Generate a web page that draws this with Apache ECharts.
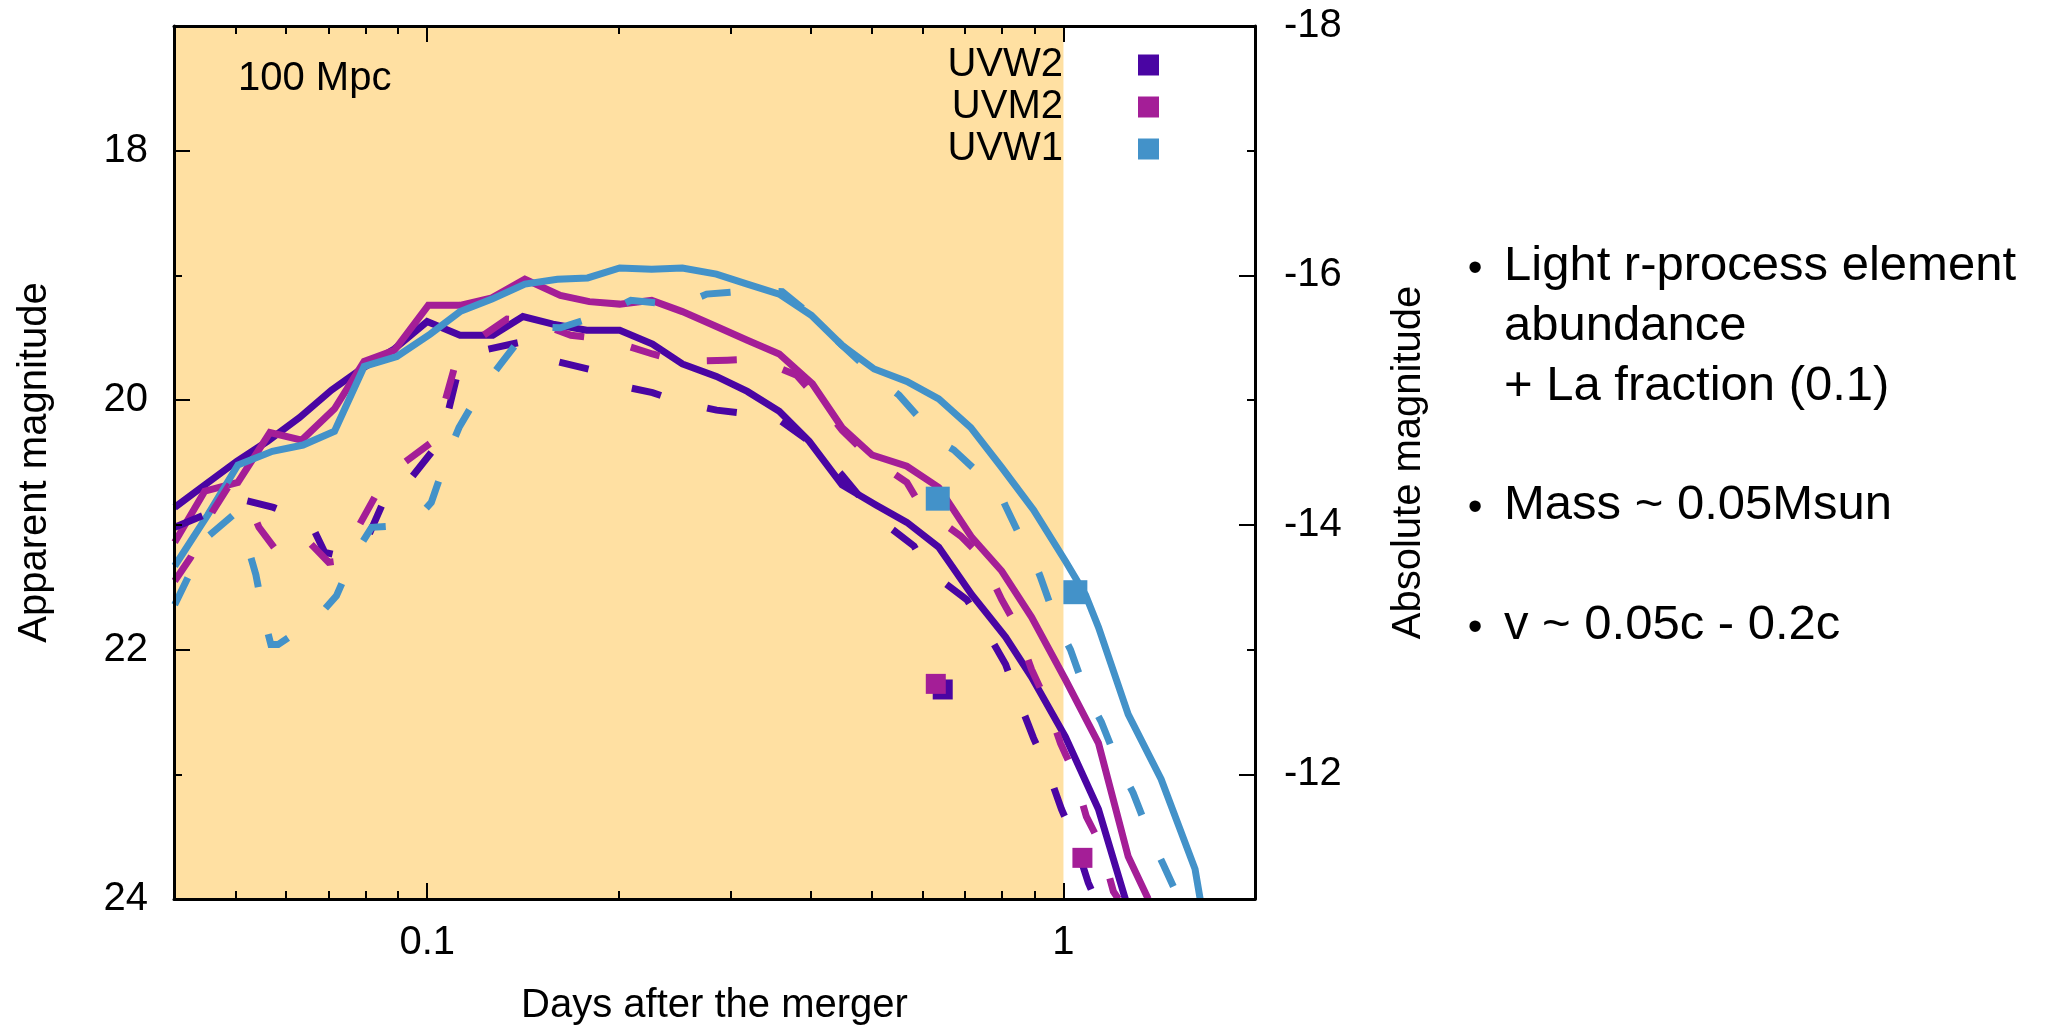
<!DOCTYPE html>
<html><head><meta charset="utf-8">
<script src="https://cdn.jsdelivr.net/npm/echarts/dist/echarts.min.js"></script>
<style>html,body{margin:0;padding:0;background:#fff}#c{width:2047px;height:1031px}</style>
</head><body><div id="c"></div>
<script>
// ---- data: [days, apparent magnitude] ----
const uvw2Solid = [[0.0401,20.86],[0.0447,20.68],[0.0502,20.49],[0.0561,20.33],[0.0630,20.14],[0.0707,19.92],[0.0788,19.75],[0.0888,19.59],[0.1,19.37],[0.1126,19.48],[0.1268,19.48],[0.1414,19.33],[0.1576,19.39],[0.1781,19.44],[0.2007,19.44],[0.2260,19.55],[0.2518,19.71],[0.2848,19.81],[0.3185,19.93],[0.3575,20.09],[0.3985,20.33],[0.4487,20.68],[0.5073,20.84],[0.5674,20.98],[0.6368,21.18],[0.7176,21.56],[0.8111,21.90],[0.8909,22.22],[1.007,22.70],[1.135,23.28],[1.251,24.0]];
const uvm2Solid = [[0.0401,21.14],[0.0447,20.73],[0.0504,20.66],[0.0566,20.26],[0.0635,20.32],[0.0715,20.07],[0.0796,19.69],[0.0888,19.60],[0.1004,19.24],[0.1126,19.24],[0.1264,19.18],[0.1424,19.03],[0.1619,19.16],[0.1798,19.21],[0.2007,19.23],[0.2253,19.20],[0.2518,19.29],[0.2848,19.41],[0.3185,19.52],[0.3575,19.63],[0.4032,19.87],[0.4487,20.22],[0.5004,20.44],[0.5674,20.53],[0.6368,20.70],[0.7176,21.10],[0.7998,21.37],[0.8909,21.74],[1.007,22.24],[1.135,22.75],[1.264,23.66],[1.359,24.0]];
const uvw1Solid = [[0.0401,21.33],[0.0452,20.92],[0.0504,20.52],[0.0571,20.41],[0.0638,20.36],[0.0715,20.25],[0.0796,19.73],[0.0896,19.65],[0.1011,19.47],[0.1126,19.29],[0.1264,19.19],[0.1424,19.07],[0.1602,19.03],[0.1787,19.02],[0.2007,18.94],[0.2253,18.95],[0.2518,18.94],[0.2848,18.99],[0.3185,19.07],[0.3575,19.15],[0.4015,19.32],[0.4487,19.56],[0.5040,19.75],[0.5674,19.85],[0.6368,19.99],[0.7151,20.22],[0.7998,20.54],[0.8974,20.88],[1.007,21.29],[1.083,21.56],[1.135,21.82],[1.264,22.52],[1.424,23.04],[1.610,23.76],[1.640,24.0]];
const uvw2Dashed = [[0.0401,21.02],[0.0447,20.92],[0.0514,20.80],[0.0573,20.86],[0.0655,20.98],[0.0690,21.22],[0.0747,21.26],[0.0802,21.13],[0.0880,20.66],[0.0945,20.62],[0.1033,20.37],[0.1071,20.16],[0.1118,19.77],[0.1143,19.68],[0.1198,19.61],[0.1418,19.53],[0.1540,19.67],[0.1821,19.76],[0.1988,19.88],[0.2260,19.94],[0.2513,20.02],[0.2850,20.08],[0.3075,20.10],[0.3427,20.09],[0.3986,20.33],[0.4487,20.60],[0.5089,20.94],[0.5822,21.17],[0.6143,21.37],[0.7047,21.60],[0.7434,21.78],[0.8112,22.12],[0.8411,22.34],[0.8973,22.71],[0.9371,22.92],[0.9928,23.28],[1.0368,23.50],[1.094,23.87],[1.122,24.0]];
const uvm2Dashed = [[0.0401,21.45],[0.0425,21.26],[0.0459,20.90],[0.0486,20.70],[0.0522,20.80],[0.0544,21.02],[0.0588,21.25],[0.0647,21.12],[0.0700,21.30],[0.0725,21.29],[0.0765,21.09],[0.0835,20.74],[0.0888,20.56],[0.1015,20.34],[0.1052,20.12],[0.1102,19.75],[0.1130,19.61],[0.1171,19.55],[0.1335,19.35],[0.1451,19.36],[0.1682,19.48],[0.1901,19.51],[0.2260,19.63],[0.2513,19.69],[0.2964,19.68],[0.3303,19.67],[0.3807,19.80],[0.4058,19.96],[0.4487,20.24],[0.4915,20.44],[0.5674,20.66],[0.5985,20.86],[0.6897,21.09],[0.7409,21.25],[0.7998,21.60],[0.8411,21.80],[0.8909,22.16],[0.9371,22.40],[0.9892,22.75],[1.0367,22.98],[1.0865,23.34],[1.1429,23.56],[1.198,23.94],[1.22,24.0]];
const uvw1Dashed = [[0.0401,21.64],[0.0419,21.44],[0.0453,21.09],[0.0496,20.92],[0.0522,21.17],[0.0538,21.40],[0.0555,21.76],[0.0568,21.96],[0.0583,21.96],[0.0667,21.76],[0.0720,21.57],[0.0768,21.24],[0.0818,21.02],[0.0944,21.00],[0.1015,20.82],[0.1075,20.45],[0.1122,20.22],[0.1221,19.90],[0.1305,19.71],[0.1447,19.41],[0.1619,19.42],[0.1890,19.31],[0.2090,19.20],[0.2493,19.24],[0.2749,19.15],[0.3245,19.12],[0.3615,19.13],[0.4015,19.32],[0.4487,19.56],[0.5073,19.81],[0.5514,19.96],[0.6192,20.25],[0.6323,20.32],[0.6726,20.40],[0.7631,20.66],[0.7967,20.76],[0.8111,20.85],[0.8750,21.20],[0.9040,21.32],[0.9204,21.42],[0.9750,21.78],[1.0256,22.00],[1.0866,22.36],[1.1470,22.58],[1.2196,22.92],[1.2869,23.15],[1.3689,23.50],[1.4339,23.72],[1.52,24.0]];
const uvw2Obs = [[0.646,22.32]];
const uvm2Obs = [[0.630,22.275],[1.071,23.67]];
const uvw1Obs = [[0.6345,20.79],[1.044,21.54]];
const bandNames = ['UVW2','UVM2','UVW1'];
const shadeRange = [0.04, 1];
const xMajorTicks = [0.1, 1];
const xMinorTicks = [0.05,0.06,0.07,0.08,0.09,0.2,0.3,0.4,0.5,0.6,0.7,0.8,0.9,2];
const yMajorTicks = [18,20,22,24];
const absMajorTicks = [-18,-16,-14,-12];
const distanceModulus = 35;
const noteLines = ['Light r-process element','abundance','+ La fraction (0.1)','Mass ~ 0.05Msun','v ~ 0.05c - 0.2c'];

const FONT = '"Liberation Sans", Arial, Helvetica, sans-serif';
const C = ['#4A05A3', '#A41E97', '#4392C9'];
const BLACK = '#000';
const mMin = 17, mMax = 24;

const tickLine = {color: BLACK, width: 2};
const fontBase = {fontFamily: FONT, fontSize: 40, color: BLACK};

function xAx(pos, major, withLine) {
  return {
    type: 'log', logBase: 10, min: 0.04, max: 2, position: pos, z: 10,
    axisLine: {show: withLine, onZero: false, lineStyle: {color: BLACK, width: 3}},
    axisTick: {show: true, inside: true, length: major ? 16 : 8, lineStyle: tickLine, customValues: major ? xMajorTicks : xMinorTicks},
    axisLabel: {show: false},
    splitLine: {show: false}, minorTick: {show: false}
  };
}
function yAx(pos, lo, hi, major, withLine, ticks) {
  return {
    type: 'value', inverse: true, min: lo, max: hi, interval: 1, position: pos, z: 10,
    axisLine: {show: withLine, onZero: false, lineStyle: {color: BLACK, width: 3}},
    axisTick: major ? {show: true, inside: true, length: 16, lineStyle: tickLine, customValues: ticks}
                    : {show: true, inside: true, length: 8, lineStyle: tickLine},
    axisLabel: {show: false},
    splitLine: {show: false}
  };
}

const xMain = xAx('bottom', true, true);
xMain.axisLabel = Object.assign({show: true, customValues: xMajorTicks, margin: 24,
  formatter: v => (Math.abs(v - 0.1) < 1e-6 ? '0.1' : Math.abs(v - 1) < 1e-6 ? '1' : '')}, fontBase);
xMain.name = 'Days after the merger';
xMain.nameLocation = 'middle';
xMain.nameGap = 87;
xMain.nameTextStyle = Object.assign({}, fontBase);

const yLeft = yAx('left', mMin, mMax, true, true, yMajorTicks);
yLeft.axisLabel = Object.assign({show: true, customValues: yMajorTicks, margin: 26}, fontBase);
yLeft.name = 'Apparent magnitude';
yLeft.nameLocation = 'middle';
yLeft.nameGap = 119;
yLeft.nameRotate = 90;
yLeft.nameTextStyle = Object.assign({}, fontBase);

const yRight = yAx('right', mMin - distanceModulus, mMax - distanceModulus, true, true, absMajorTicks);
yRight.axisLabel = Object.assign({show: true, customValues: absMajorTicks, margin: 29, formatter: v => String(v)}, fontBase);
yRight.name = 'Absolute magnitude';
yRight.nameLocation = 'middle';
yRight.nameGap = 134;
yRight.nameRotate = 90;
yRight.nameTextStyle = Object.assign({}, fontBase);

function lineSeries(name, data, color, dashed) {
  return {
    type: 'line', name: name, data: data, xAxisIndex: 0, yAxisIndex: 0,
    showSymbol: false, symbol: 'none', silent: true, z: 3, clip: true,
    lineStyle: {color: color, width: 7, opacity: 1, type: dashed ? [30, 48] : 'solid', cap: 'butt', join: 'miter'}
  };
}
function pointSeries(name, data, color, size) {
  return {
    type: 'scatter', name: name, data: data, xAxisIndex: 0, yAxisIndex: 0,
    symbol: 'rect', symbolSize: size, itemStyle: {color: color, opacity: 1}, z: 5, silent: true
  };
}

const textX = 1504, bulletX = 1475;
const noteY = [266, 326, 386, 505, 625];
const graphics = [
  {type: 'text', left: 238, top: 59, z: 20, style: {text: '100 Mpc', font: '40px ' + FONT, fill: BLACK}}
];
noteLines.forEach((t, i) => {
  graphics.push({type: 'text', x: textX, y: noteY[i], z: 20,
    style: {text: t, fontFamily: FONT, fontSize: 49, fill: BLACK, align: 'left', verticalAlign: 'middle'}});
});
[0, 3, 4].forEach(i => {
  graphics.push({type: 'text', x: bulletX, y: noteY[i] + 3, z: 20,
    style: {text: '\u2022', fontFamily: FONT, fontSize: 42, fill: BLACK, align: 'center', verticalAlign: 'middle'}});
});

const chart = echarts.init(document.getElementById('c'), null, {renderer: 'canvas'});
chart.setOption({
  animation: false,
  backgroundColor: '#fff',
  grid: {left: 174, right: 792, top: 26, bottom: 128, containLabel: false},
  xAxis: [xMain, xAx('bottom', false, false), xAx('top', true, true), xAx('top', false, false)],
  yAxis: [yLeft, yRight, yAx('left', mMin, mMax, false, false), yAx('right', mMin - distanceModulus, mMax - distanceModulus, false, false)],
  legend: {
    data: bandNames, orient: 'vertical', align: 'right', right: 888, top: 44,
    itemWidth: 21, itemHeight: 21, itemGap: 0, padding: 0, icon: 'rect', selectedMode: false,
    itemStyle: {opacity: 1},
    textStyle: {fontFamily: FONT, fontSize: 40, color: BLACK, lineHeight: 42, padding: [0, 70, 0, 0]}
  },
  graphic: graphics,
  series: [
    {type: 'line', name: 'shade', data: [], xAxisIndex: 0, yAxisIndex: 0, silent: true, z: 1,
     markArea: {silent: true, itemStyle: {color: '#FFE0A2', opacity: 1}, data: [[{xAxis: shadeRange[0]}, {xAxis: shadeRange[1]}]]}},
    lineSeries('UVW2 model', uvw2Solid, C[0], false),
    lineSeries('UVM2 model', uvm2Solid, C[1], false),
    lineSeries('UVW1 model', uvw1Solid, C[2], false),
    lineSeries('UVW2 model b', uvw2Dashed, C[0], true),
    lineSeries('UVM2 model b', uvm2Dashed, C[1], true),
    lineSeries('UVW1 model b', uvw1Dashed, C[2], true),
    pointSeries(bandNames[0], uvw2Obs, C[0], 20),
    pointSeries(bandNames[1], uvm2Obs, C[1], 20),
    pointSeries(bandNames[2], uvw1Obs, C[2], 24)
  ]
});
</script>
</body></html>
